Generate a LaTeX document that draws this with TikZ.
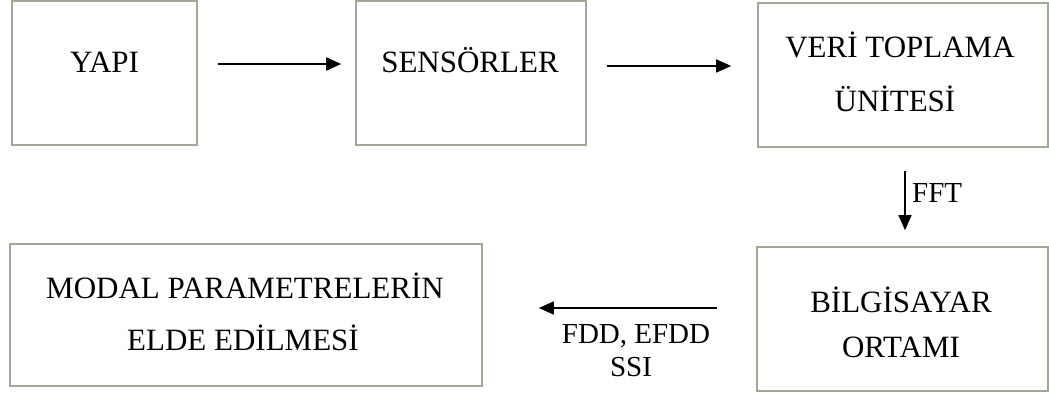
\documentclass[tikz,border=0pt]{standalone}
\usepackage{fontspec}
\setmainfont{Liberation Serif}
\usetikzlibrary{arrows.meta}
\definecolor{boxline}{RGB}{160,168,150}
\tikzset{
  x=1pt, y=-1pt,
  blk/.style={draw=boxline, line width=1.6pt, fill=white, inner sep=0pt},
  txt/.style={anchor=base, inner sep=0pt, font=\fontsize{31}{36}\selectfont},
  lbl/.style={anchor=base, inner sep=0pt, font=\fontsize{29}{34}\selectfont},
  arr/.style={line width=1.5pt, -{Triangle[length=15pt,width=13pt]}},
}
\begin{document}
\begin{tikzpicture}
\useasboundingbox (0,0) rectangle (1049,398);
% boxes
\node[blk, minimum width=185pt, minimum height=144pt] (yapi) at (104.5,73) {};
\node[blk, minimum width=230pt, minimum height=144pt] (sens) at (471,73) {};
\node[blk, minimum width=290pt, minimum height=144pt] (veri) at (903,75) {};
\node[blk, minimum width=291pt, minimum height=144pt] (bilg) at (902.5,319) {};
\node[blk, minimum width=472pt, minimum height=142pt] (modal) at (246,315) {};
% texts
\node[txt] (tyapi) at (104.5,73) {YAPI};
\node[txt] (tsens) at (470,73) {SENSÖRLER};
\node[txt] (tveri1) at (900,58) {VERİ TOPLAMA};
\node[txt] (tveri2) at (895,112) {ÜNİTESİ};
\node[txt] (tbilg1) at (901,312) {BİLGİSAYAR};
\node[txt] (tbilg2) at (901,357) {ORTAMI};
\node[txt] (tmodal1) at (245,298) {MODAL PARAMETRELERİN};
\node[txt] (tmodal2) at (243,350) {ELDE EDİLMESİ};
% labels
\node[lbl, anchor=base west] (fft) at (912,203) {FFT};
\node[lbl] (fdd) at (636,343) {FDD, EFDD};
\node[lbl] (ssi) at (631,376) {SSI};
% arrows
\draw[arr, shorten <=20pt, shorten >=14pt] ([yshift=9pt]yapi.east) -- ([yshift=9pt]yapi.east -| sens.west);
\draw[arr, shorten <=20pt, shorten >=26pt] ([yshift=7pt]sens.east) -- ([yshift=7pt]sens.east -| veri.west);
\draw[arr, shorten <=23pt, shorten >=16pt] ([xshift=2pt]veri.south) -- ([xshift=2pt]veri.south |- bilg.north);
\draw[arr, shorten <=39pt, shorten >=56pt] ([yshift=11pt]bilg.west) -- ([yshift=11pt]bilg.west -| modal.east);
\end{tikzpicture}
\end{document}
